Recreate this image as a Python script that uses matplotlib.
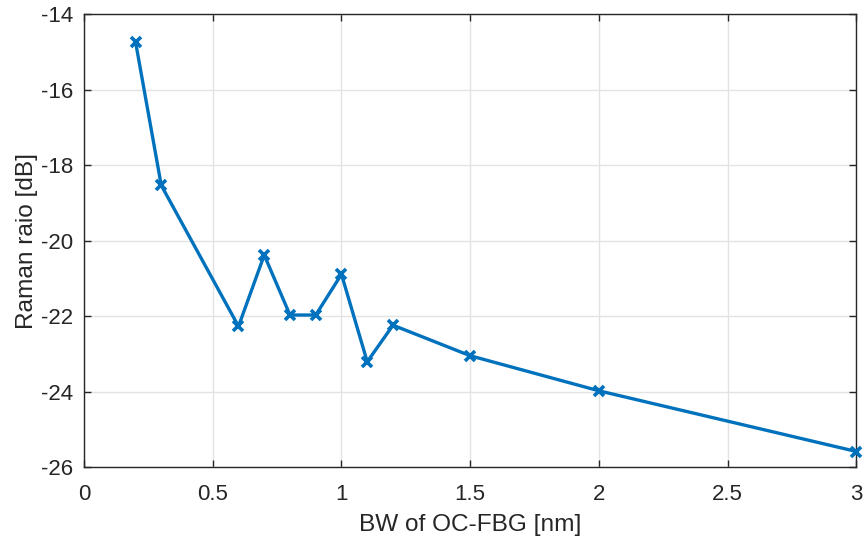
import matplotlib
matplotlib.use("Agg")
import matplotlib.pyplot as plt

bw_nm = [0.2, 0.3, 0.6, 0.7, 0.8, 0.9, 1.0, 1.1, 1.2, 1.5, 2.0, 3.0]
raman_db = [-14.72, -18.53, -22.27, -20.38, -21.97, -21.97, -20.89, -23.21, -22.24, -23.05, -23.98, -25.59]
xticks = [0, 0.5, 1, 1.5, 2, 2.5, 3]
xticklabels = ["0", "0.5", "1", "1.5", "2", "2.5", "3"]
yticks = [-26, -24, -22, -20, -18, -16, -14]
yticklabels = ["-26", "-24", "-22", "-20", "-18", "-16", "-14"]

plt.rcParams['font.family'] = ['Liberation Sans', 'DejaVu Sans']

fig = plt.figure(figsize=(8.66, 5.41), dpi=100)
ax = fig.add_axes([0.097, 0.1368, 0.892, 0.8364])
ax.plot(bw_nm, raman_db, color='#0072BD', linewidth=2.4, marker='x',
        markersize=7, markeredgewidth=2.6, clip_on=False, zorder=3)
ax.set_xlim(0, 3)
ax.set_ylim(-26, -14)
ax.set_xticks(xticks)
ax.set_xticklabels(xticklabels)
ax.set_yticks(yticks)
ax.set_yticklabels(yticklabels)
ax.grid(True, color='#e3e3e3', linewidth=1.0)
ax.set_axisbelow(True)
ax.tick_params(direction='in', top=True, right=True, length=5, width=1.0,
               labelsize=16, colors='#262626')
ax.tick_params(axis='x', pad=12)
ax.tick_params(axis='y', pad=8)
for s in ax.spines.values():
    s.set_color('#262626')
    s.set_linewidth(1.0)
ax.set_xlabel('BW of OC-FBG [nm]', fontsize=17.6, color='#262626')
ax.set_ylabel('Raman raio [dB]', fontsize=17.6, color='#262626')
ax.xaxis.set_label_coords(0.5, -0.104)
ax.yaxis.set_label_coords(-0.060, 0.5)
fig.savefig('out.png', dpi=100)
